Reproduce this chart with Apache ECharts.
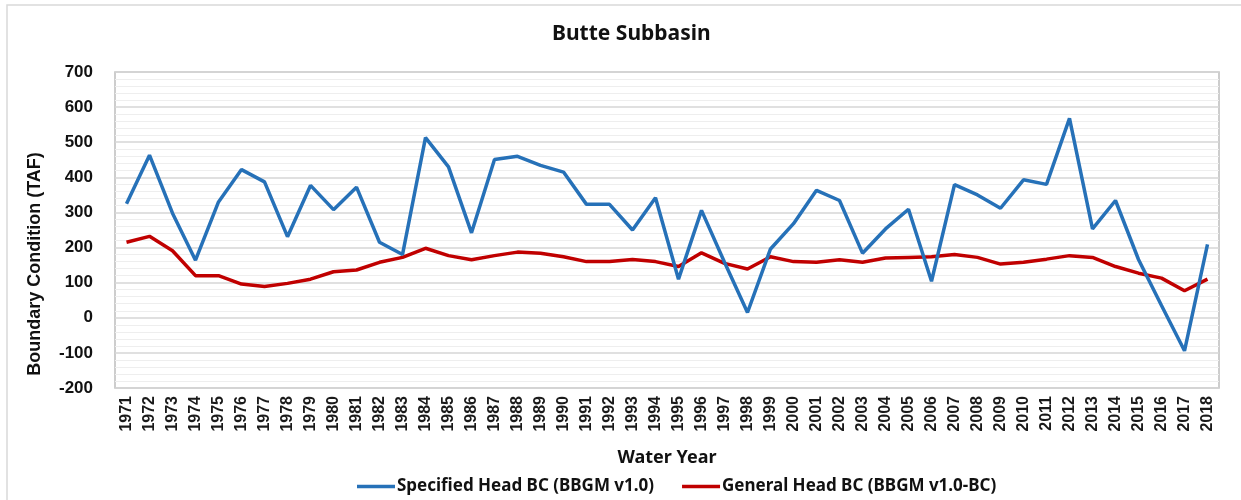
<!DOCTYPE html>
<html>
<head>
    <meta charset="utf-8">
    <title>Butte Subbasin</title>
    <script src="https://cdn.jsdelivr.net/npm/echarts@6/dist/echarts.min.js"></script>
    <style>
        html, body { margin: 0; padding: 0; background: #fff; }
    </style>
</head>
<body>
<div id="main" style="width: 1241px;height:500px;"></div>
<script type="text/javascript">
    // water years 1971 - 2018
    var years = ['1971','1972','1973','1974','1975','1976','1977','1978','1979','1980',
        '1981','1982','1983','1984','1985','1986','1987','1988','1989','1990',
        '1991','1992','1993','1994','1995','1996','1997','1998','1999','2000',
        '2001','2002','2003','2004','2005','2006','2007','2008','2009','2010',
        '2011','2012','2013','2014','2015','2016','2017','2018'];

    // Specified Head BC (BBGM v1.0), TAF
    var specifiedHead = [325,463,298,164,330,422,387,231,377,308,
        372,215,180,513,430,242,451,460,434,415,
        323,323,250,342,110,306,158,15,196,268,
        363,334,184,253,309,104,379,350,312,393,
        380,568,253,334,166,35,-94,209];

    // General Head BC (BBGM v1.0-BC), TAF
    var generalHead = [215,232,191,120,120,96,89,98,110,131,
        136,158,172,198,177,165,177,187,184,174,
        160,160,166,160,146,185,155,139,174,160,
        158,165,158,170,172,174,180,172,153,158,
        167,177,172,146,127,113,77,110];

    var seriesNames = ['Specified Head BC (BBGM v1.0)', 'General Head BC (BBGM v1.0-BC)'];

    var myChart = echarts.init(document.getElementById('main'), null, {renderer: 'canvas'});

    var option = {
        backgroundColor: '#fff',
        title: {
            text: 'Butte Subbasin',
            left: 547,
            top: 19,
            textStyle: {fontFamily: 'Noto Sans', fontWeight: 'bold', fontSize: 21, color: '#111'}
        },
        // light frame round the whole chart
        graphic: [{
            type: 'rect',
            shape: {x: 7, y: 5, width: 1260, height: 520},
            style: {fill: 'none', stroke: '#d9d9d9', lineWidth: 1.5},
            silent: true
        }],
        legend: {
            data: seriesNames,
            icon: 'rect',
            left: 352,
            top: 473,
            itemWidth: 38,
            itemHeight: 3.5,
            itemGap: 28,
            textStyle: {fontFamily: 'Noto Sans', fontWeight: 'bold', fontSize: 17, color: '#111', padding: [0, 0, 0, -3]}
        },
        grid: {
            left: 115,
            right: 22,
            top: 72,
            bottom: 112,
            show: true,
            borderColor: '#bdbdbd',
            borderWidth: 1.5,
            backgroundColor: '#fff'
        },
        xAxis: {
            type: 'category',
            data: years,
            boundaryGap: true,
            name: 'Water Year',
            nameLocation: 'middle',
            nameGap: 61,
            nameTextStyle: {fontFamily: 'Noto Sans', fontWeight: 'bold', fontSize: 18, color: '#111'},
            axisLine: {show: false},
            axisTick: {show: false},
            axisLabel: {
                rotate: 90,
                interval: 0,
                margin: 8,
                fontFamily: 'Liberation Sans',
                fontWeight: 'bold',
                fontSize: 16,
                color: '#1a1a1a'
            },
            splitLine: {show: false}
        },
        yAxis: {
            type: 'value',
            min: -200,
            max: 700,
            interval: 100,
            name: 'Boundary Condition (TAF)',
            nameLocation: 'middle',
            nameGap: 71,
            nameRotate: 90,
            nameTextStyle: {fontFamily: 'Liberation Sans', fontWeight: 'bold', fontSize: 18, color: '#111', padding: [0, 68, 0, 0]},
            axisLine: {show: false},
            axisTick: {show: false},
            axisLabel: {
                margin: 22,
                fontFamily: 'Liberation Sans',
                fontWeight: 'bold',
                fontSize: 17,
                color: '#111'
            },
            splitLine: {show: true, lineStyle: {color: '#d6d6d6', width: 1.5}},
            minorTick: {show: false, splitNumber: 5},
            minorSplitLine: {show: true, lineStyle: {color: '#eeeeee', width: 1}}
        },
        series: [{
            name: seriesNames[0],
            type: 'line',
            data: specifiedHead,
            symbol: 'none',
            lineStyle: {color: '#2671b8', width: 3.5},
            itemStyle: {color: '#2671b8'},
            z: 3
        }, {
            name: seriesNames[1],
            type: 'line',
            data: generalHead,
            symbol: 'none',
            lineStyle: {color: '#c00000', width: 3.5},
            itemStyle: {color: '#c00000'},
            z: 2
        }]
    };

    myChart.setOption(option);
</script>
</body>
</html>
